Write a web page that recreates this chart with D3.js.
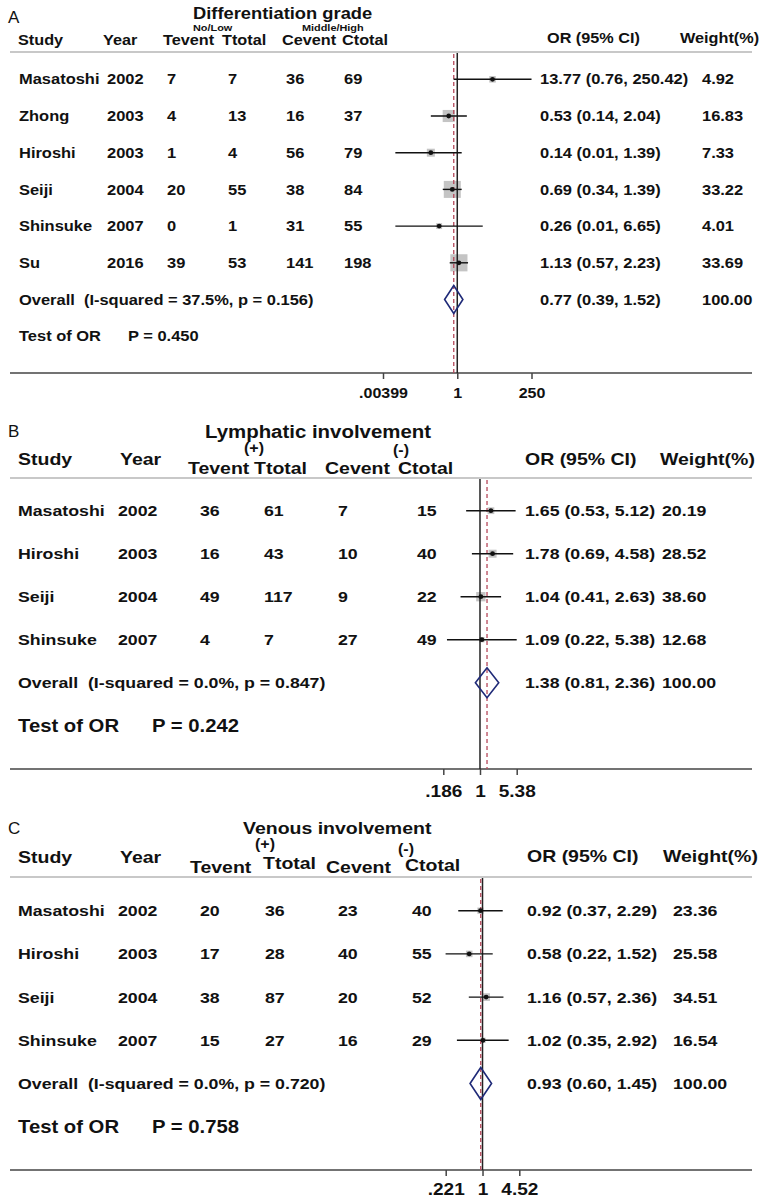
<!DOCTYPE html>
<html>
<head>
<meta charset="utf-8">
<script src="https://cdn.jsdelivr.net/npm/d3@7"></script>
<style>
  html, body { margin: 0; padding: 0; background: #fff; }
  svg { display: block; }
</style>
</head>
<body>
<svg id="chart" width="761" height="1201"></svg>
<script>
// ---------- Panel A: differentiation grade ----------
const studiesA  = ["Masatoshi", "Zhong", "Hiroshi", "Seiji", "Shinsuke", "Su"];
const yearsA    = [2002, 2003, 2003, 2004, 2007, 2016];
const teventA   = [7, 4, 1, 20, 0, 39];
const ttotalA   = [7, 13, 4, 55, 1, 53];
const ceventA   = [36, 16, 56, 38, 31, 141];
const ctotalA   = [69, 37, 79, 84, 55, 198];
const orA       = [13.77, 0.53, 0.14, 0.69, 0.26, 1.13];
const lowA      = [0.76, 0.14, 0.01, 0.34, 0.01, 0.57];
const highA     = [250.42, 2.04, 1.39, 1.39, 6.65, 2.23];
const weightA   = [4.92, 16.83, 7.33, 33.22, 4.01, 33.69];
const overallA  = [0.77, 0.39, 1.52];          // OR, lower, upper
const hetA      = ["37.5%", "0.156"];          // I-squared, p
const testPA    = "0.450";
const ticksA    = [0.00399, 1, 250];
const tickLabelsA = [".00399", "1", "250"];
const groupsA   = ["No/Low", "Middle/High"];

// ---------- Panel B: lymphatic involvement ----------
const studiesB  = ["Masatoshi", "Hiroshi", "Seiji", "Shinsuke"];
const yearsB    = [2002, 2003, 2004, 2007];
const teventB   = [36, 16, 49, 4];
const ttotalB   = [61, 43, 117, 7];
const ceventB   = [7, 10, 9, 27];
const ctotalB   = [15, 40, 22, 49];
const orB       = [1.65, 1.78, 1.04, 1.09];
const lowB      = [0.53, 0.69, 0.41, 0.22];
const highB     = [5.12, 4.58, 2.63, 5.38];
const weightB   = [20.19, 28.52, 38.60, 12.68];
const overallB  = [1.38, 0.81, 2.36];
const hetB      = ["0.0%", "0.847"];
const testPB    = "0.242";
const ticksB    = [0.186, 1, 5.38];
const tickLabelsB = [".186", "1", "5.38"];
const groupsB   = ["(+)", "(-)"];

// ---------- Panel C: venous involvement ----------
const studiesC  = ["Masatoshi", "Hiroshi", "Seiji", "Shinsuke"];
const yearsC    = [2002, 2003, 2004, 2007];
const teventC   = [20, 17, 38, 15];
const ttotalC   = [36, 28, 87, 27];
const ceventC   = [23, 40, 20, 16];
const ctotalC   = [40, 55, 52, 29];
const orC       = [0.92, 0.58, 1.16, 1.02];
const lowC      = [0.37, 0.22, 0.57, 0.35];
const highC     = [2.29, 1.52, 2.36, 2.92];
const weightC   = [23.36, 25.58, 34.51, 16.54];
const overallC  = [0.93, 0.60, 1.45];
const hetC      = ["0.0%", "0.720"];
const testPC    = "0.758";
const ticksC    = [0.221, 1, 4.52];
const tickLabelsC = [".221", "1", "4.52"];
const groupsC   = ["(+)", "(-)"];

const headerLabels = ["Study", "Year", "Tevent", "Ttotal", "Cevent", "Ctotal", "OR (95% CI)", "Weight(%)"];

// ---------- drawing ----------
const FONT = "'Liberation Sans', Arial, Helvetica, sans-serif";
const SX = 1.16;              // horizontal stretch of the lettering
const INK = "#111";
const fmt2 = d3.format(".2f");

const svg = d3.select("#chart");
svg.append("rect").attr("width", 761).attr("height", 1201).attr("fill", "#fff");

function label(g, x, y, s, size, opt = {}) {
  return g.append("text")
    .attr("transform", `translate(${x},${y}) scale(${opt.sx ?? SX},1)`)
    .attr("font-family", FONT)
    .attr("font-size", size)
    .attr("font-weight", opt.weight ?? 700)
    .attr("text-anchor", opt.anchor ?? "start")
    .attr("fill", INK)
    .style("white-space", "pre")
    .text(s);
}

const panels = [
  {
    letter: "A", title: "Differentiation grade", groups: groupsA,
    studies: studiesA, years: yearsA, tev: teventA, ttot: ttotalA, cev: ceventA, ctot: ctotalA,
    or: orA, lo: lowA, hi: highA, wt: weightA, overall: overallA, het: hetA, testP: testPA,
    ticks: ticksA, tickLabels: tickLabelsA,
    L: {
      letter: [8, 23, 17], title: [193, 19, 15.8],
      groupX: [193, 302], groupY: [31, 31], groupSize: 9.4,
      headSize: 14, headX: [18, 103, 163, 222, 282, 342, 547, 680], headY: [45, 45, 45, 45, 45, 45, 43, 43],
      ruleY: 52, rowSize: 14.2, colX: [19, 107, 167, 228, 286, 344, 540, 702],
      row0: 79.3, step: 36.7, testSize: 14.2, testPX: 128,
      axisY: 373, xRange: [383, 531.5], tickFont: 13.8, tickBase: 398,
      box: 2.95, diamondH: 14
    }
  },
  {
    letter: "B", title: "Lymphatic involvement", groups: groupsB,
    studies: studiesB, years: yearsB, tev: teventB, ttot: ttotalB, cev: ceventB, ctot: ctotalB,
    or: orB, lo: lowB, hi: highB, wt: weightB, overall: overallB, het: hetB, testP: testPB,
    ticks: ticksB, tickLabels: tickLabelsB,
    L: {
      letter: [8, 437, 17], title: [205, 438, 17.6],
      groupX: [244, 393], groupY: [453, 455], groupSize: 13.8,
      headSize: 16.8, headX: [18, 120, 188, 254, 325, 398, 525, 660], headY: [465, 465, 474, 474, 474, 474, 465, 465],
      ruleY: 478, rowSize: 15.3, colX: [18, 118, 200, 264, 338, 417, 525, 662],
      row0: 510.7, step: 43, testSize: 17.5, testPX: 152,
      axisY: 769, xRange: [443.3, 516.7], tickFont: 16.4, tickBase: 797,
      box: 1.5, diamondH: 15
    }
  },
  {
    letter: "C", title: "Venous involvement", groups: groupsC,
    studies: studiesC, years: yearsC, tev: teventC, ttot: ttotalC, cev: ceventC, ctot: ctotalC,
    or: orC, lo: lowC, hi: highC, wt: weightC, overall: overallC, het: hetC, testP: testPC,
    ticks: ticksC, tickLabels: tickLabelsC,
    L: {
      letter: [8, 834, 17], title: [243, 834, 16.8],
      groupX: [255, 398], groupY: [849, 854], groupSize: 13.8,
      headSize: 16.8, headX: [18, 120, 190, 263, 326, 405, 527, 663], headY: [863, 863, 873, 869, 873, 871, 862, 862],
      ruleY: 877, rowSize: 15.3, colX: [18, 118, 200, 265, 338, 412, 527, 673],
      row0: 910.7, step: 43.2, testSize: 17.5, testPX: 152,
      axisY: 1170, xRange: [445.7, 519.3], tickFont: 16.4, tickBase: 1195,
      box: 1.3, diamondH: 16
    }
  }
];

panels.forEach(p => {
  const L = p.L;
  const g = svg.append("g");
  const x = d3.scaleLog().domain([p.ticks[0], p.ticks[p.ticks.length - 1]]).range(L.xRange);
  const n = p.studies.length;
  const rowY = i => L.row0 + i * L.step;
  const base = (i, size) => rowY(i) + 0.36 * size;

  // panel letter, title, group captions
  label(g, L.letter[0], L.letter[1], p.letter, L.letter[2], { weight: 400, sx: 1 });
  label(g, L.title[0], L.title[1], p.title, L.title[2]);
  p.groups.forEach((s, k) => label(g, L.groupX[k], L.groupY[k], s, L.groupSize));

  // column headers
  headerLabels.forEach((s, k) => label(g, L.headX[k], L.headY[k], s, L.headSize));

  // rule under the header and the bottom axis line
  g.append("line").attr("x1", 10).attr("x2", 752).attr("y1", L.ruleY).attr("y2", L.ruleY)
    .attr("stroke", "#c8c8c8").attr("stroke-width", 2);
  g.append("line").attr("x1", 10).attr("x2", 752).attr("y1", L.axisY).attr("y2", L.axisY)
    .attr("stroke", "#444").attr("stroke-width", 1.5);

  // weight boxes
  p.or.forEach((v, i) => {
    const s = L.box * Math.sqrt(p.wt[i]);
    g.append("rect").attr("x", x(v) - s / 2).attr("y", rowY(i) - s / 2)
      .attr("width", s).attr("height", s).attr("fill", "#c4c4c4");
  });

  // null line and pooled-estimate line
  g.append("line").attr("x1", x(1)).attr("x2", x(1)).attr("y1", L.ruleY + 1).attr("y2", L.axisY)
    .attr("stroke", "#222").attr("stroke-width", 1.5);
  g.append("line").attr("x1", x(p.overall[0])).attr("x2", x(p.overall[0]))
    .attr("y1", L.ruleY + 2).attr("y2", L.axisY)
    .attr("stroke", "#b5485a").attr("stroke-width", 1.3).attr("stroke-dasharray", "4,3");

  // confidence intervals and point estimates
  p.or.forEach((v, i) => {
    g.append("line").attr("x1", x(p.lo[i])).attr("x2", x(p.hi[i]))
      .attr("y1", rowY(i)).attr("y2", rowY(i)).attr("stroke", INK).attr("stroke-width", 1.4);
    g.append("circle").attr("cx", x(v)).attr("cy", rowY(i)).attr("r", 2.4).attr("fill", INK);
  });

  // pooled diamond
  const yo = rowY(n), h = L.diamondH, o = p.overall;
  g.append("path")
    .attr("d", `M${x(o[1])},${yo}L${x(o[0])},${yo - h}L${x(o[2])},${yo}L${x(o[0])},${yo + h}Z`)
    .attr("fill", "none").attr("stroke", "#1f2a78").attr("stroke-width", 1.6);

  // study rows
  p.studies.forEach((s, i) => {
    const y = base(i, L.rowSize), c = L.colX, f = L.rowSize;
    label(g, c[0], y, s, f);
    label(g, c[1], y, String(p.years[i]), f);
    label(g, c[2], y, String(p.tev[i]), f);
    label(g, c[3], y, String(p.ttot[i]), f);
    label(g, c[4], y, String(p.cev[i]), f);
    label(g, c[5], y, String(p.ctot[i]), f);
    label(g, c[6], y, `${fmt2(p.or[i])} (${fmt2(p.lo[i])}, ${fmt2(p.hi[i])})`, f);
    label(g, c[7], y, fmt2(p.wt[i]), f);
  });

  // overall row
  const yOv = base(n, L.rowSize);
  label(g, L.colX[0], yOv, `Overall  (I-squared = ${p.het[0]}, p = ${p.het[1]})`, L.rowSize);
  label(g, L.colX[6], yOv, `${fmt2(o[0])} (${fmt2(o[1])}, ${fmt2(o[2])})`, L.rowSize);
  label(g, L.colX[7], yOv, fmt2(100), L.rowSize);

  // test of overall effect
  const yT = base(n + 1, L.testSize);
  label(g, L.colX[0], yT, "Test of OR", L.testSize);
  label(g, L.testPX, yT, `P = ${p.testP}`, L.testSize);

  // log axis ticks
  const tickSize = 6;
  const axis = d3.axisBottom(x).tickValues(p.ticks)
    .tickFormat((d, i) => p.tickLabels[i]).tickSize(tickSize)
    .tickPadding(L.tickBase - L.axisY - tickSize - 0.71 * L.tickFont);
  const ag = g.append("g").attr("transform", `translate(0,${L.axisY})`).call(axis);
  ag.select(".domain").remove();
  ag.selectAll(".tick line").attr("stroke", "#444").attr("stroke-width", 1.5);
  ag.selectAll(".tick text")
    .attr("font-family", FONT).attr("font-size", L.tickFont).attr("font-weight", 700)
    .attr("fill", INK).attr("transform", `scale(${SX},1)`);
});
</script>
</body>
</html>
